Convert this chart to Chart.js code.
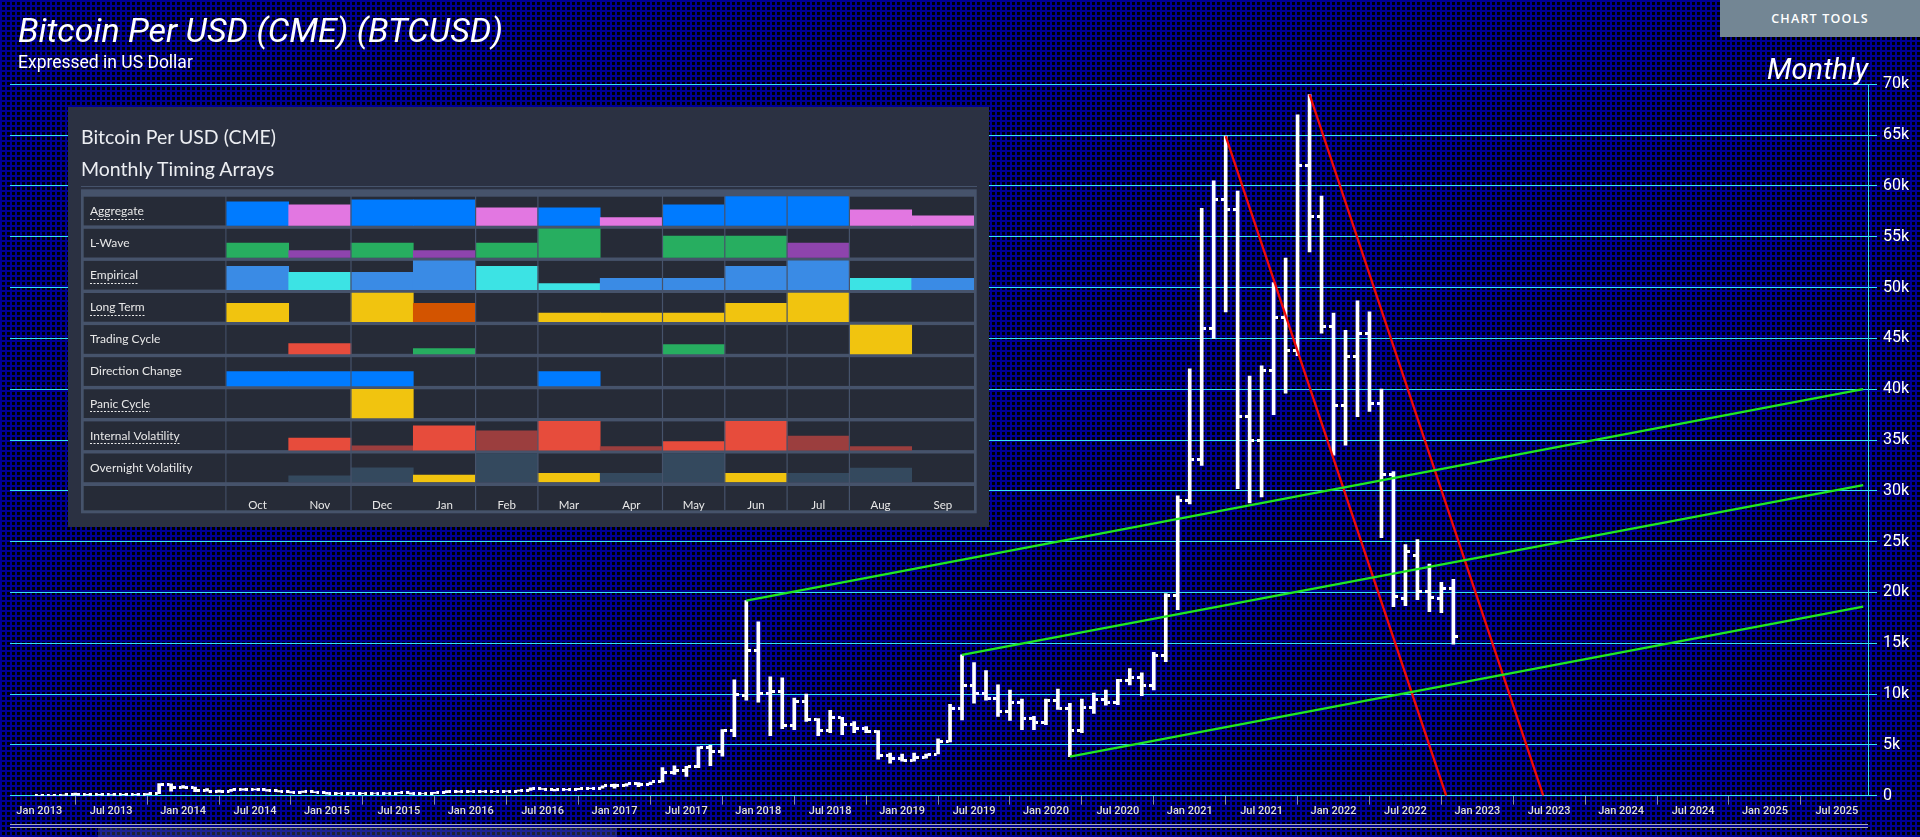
<!DOCTYPE html>
<html>
<head>
<meta charset="utf-8">
<script src="https://cdn.jsdelivr.net/npm/chart.js@4"></script>
<style>
html, body { margin: 0; padding: 0; width: 1920px; height: 837px; overflow: hidden; }
body {
    position: relative;
    background-color: #000;
    background-image: linear-gradient(to right, #000094 2px, transparent 2px),
                      linear-gradient(to bottom, #000094 2px, transparent 2px);
    background-size: 5px 5px;
    font-family: Roboto, sans-serif;
}
canvas { position: absolute; left: 0; top: 0; }
#main { z-index: 1; }
#panel { position: absolute; left: 68px; top: 107px; width: 921px; height: 420px; background: #2b3142; z-index: 2; }
#table { z-index: 3; pointer-events: none; }
.txt { position: absolute; white-space: nowrap; z-index: 4; color: #fff; }
#title { left: 18px; top: 13px; font: italic 34px/34px Roboto; }
#subtitle { left: 18px; top: 54px; font: 17.5px/17.5px Roboto; }
#period { right: 52px; top: 55px; font: italic 29px/29px Roboto; }
#tools { left: 1720px; top: 0; width: 200px; height: 37px; background: #738694; font: 600 12.5px/37px "Open Sans"; letter-spacing: 1.2px; text-align: center; }
.ptitle { left: 81px; font: 19.5px/23.4px Lato; color: #eceef2; }
#sep { position: absolute; left: 81px; top: 186px; width: 896px; height: 1px; background: #46536b; z-index: 4; }
.nav { position: absolute; left: 10px; width: 1858px; height: 1px; background: #a9aab6; z-index: 1; }
#navbox { position: absolute; left: 98px; top: 828px; width: 519px; height: 9px; background: rgba(90, 100, 150, 0.35); z-index: 1; }
</style>
</head>
<body>
<canvas id="main" width="1920" height="837"></canvas>
<div id="panel"></div>
<canvas id="table" width="1920" height="837"></canvas>

<div class="txt" id="title">Bitcoin Per USD (CME) (BTCUSD)</div>
<div class="txt" id="subtitle">Expressed in US Dollar</div>
<div class="txt" id="period">Monthly</div>
<div class="txt" id="tools">CHART TOOLS</div>
<div class="txt ptitle" style="top:124.5px">Bitcoin Per USD (CME)</div>
<div class="txt ptitle" style="top:156.8px">Monthly Timing Arrays</div>
<div id="sep"></div>
<div class="nav" style="top:824px"></div>
<div class="nav" style="top:827px"></div>
<div id="navbox"></div>

<script>
"use strict";

// monthly OHLC, Jan 2013 .. Nov 2022 (USD)
const opens = [
    13.5, 20.4, 33.4, 93, 139, 129, 97, 106, 135, 133, 205, 1130,
    760, 800, 555, 450, 445, 625, 640, 585, 480, 385, 340, 375,
    320, 218, 255, 245, 235, 230, 265, 285, 230, 236, 314, 378,
    430, 368, 437, 416, 448, 530, 670, 625, 575, 610, 700, 745,
    960, 965, 1190, 1080, 1350, 2300, 2480, 2870, 4730, 4340, 6450, 9900,
    14300, 10100, 10300, 6900, 9300, 7500, 6400, 7700, 7000, 6600, 6300, 4000,
    3700, 3450, 3800, 4100, 5300, 8600, 10800, 10100, 9600, 8300, 9150, 7550,
    7200, 9350, 8550, 6400, 8650, 9450, 9150, 11350, 11650, 10800, 13800, 19700,
    29000, 33100, 46000, 58700, 57700, 37300, 35000, 41800, 47100, 43800, 62000, 57000,
    46200, 38400, 43200, 45500, 38600, 31600, 19400, 23600, 20100, 19400, 20400
];
const highs = [
    20.7, 33.4, 95.7, 266, 140, 129, 110, 140, 145, 215, 1200, 1160,
    1000, 850, 710, 550, 630, 680, 650, 600, 495, 415, 460, 390,
    320, 270, 300, 260, 250, 270, 320, 290, 245, 330, 500, 465,
    460, 445, 440, 470, 550, 780, 700, 625, 620, 720, 755, 980,
    1150, 1200, 1290, 1350, 2760, 2950, 2900, 4800, 4950, 6500, 11400, 19200,
    17100, 11700, 11600, 9600, 10000, 7600, 8400, 7700, 7300, 6800, 6400, 4200,
    4100, 4200, 4100, 5600, 9000, 13850, 13100, 12300, 10900, 10400, 9500, 7800,
    9500, 10500, 9100, 9500, 10100, 10400, 11450, 12500, 12100, 14100, 19900, 29500,
    42000, 57800, 60500, 64900, 59500, 41300, 42300, 50500, 52900, 67000, 69000, 59000,
    47500, 45800, 48700, 47600, 40000, 31900, 24700, 25200, 22800, 21000, 21300
];
const lows = [
    12.7, 19.1, 33.3, 50, 79, 88, 65, 100, 110, 90, 200, 450,
    740, 400, 440, 340, 430, 550, 570, 440, 370, 275, 315, 305,
    160, 210, 235, 210, 225, 220, 250, 160, 225, 235, 300, 350,
    360, 365, 400, 410, 440, 520, 610, 480, 570, 600, 690, 740,
    750, 940, 900, 1080, 1350, 2100, 1900, 2750, 2950, 3900, 5800, 9400,
    9200, 5900, 6600, 6500, 7300, 5900, 6200, 6000, 6200, 6200, 3600, 3200,
    3400, 3400, 3700, 4100, 5300, 7460, 9100, 9400, 7800, 7400, 6500, 6500,
    7000, 8500, 3840, 6200, 8100, 8900, 8950, 10900, 9850, 10400, 13200, 18300,
    28700, 32500, 45000, 47600, 30200, 28800, 29400, 37500, 39600, 43300, 53500, 45500,
    33500, 34500, 37300, 37800, 25400, 18600, 18700, 19300, 18100, 18000, 14900
];
const closes = [
    20.4, 33.4, 93, 139, 129, 97, 106, 135, 133, 205, 1130, 760,
    800, 555, 450, 445, 625, 640, 585, 480, 385, 340, 375, 320,
    218, 255, 245, 235, 230, 265, 285, 230, 236, 314, 378, 430,
    368, 437, 416, 448, 530, 670, 625, 575, 610, 700, 745, 960,
    965, 1190, 1080, 1350, 2300, 2480, 2870, 4730, 4340, 6450, 10000, 14300,
    10100, 10300, 6900, 9300, 7500, 6400, 7700, 7000, 6600, 6300, 4000, 3700,
    3450, 3800, 4100, 5300, 8600, 10800, 10100, 9600, 8300, 9150, 7550, 7200,
    9350, 8550, 6400, 8650, 9450, 9150, 11350, 11650, 10800, 13800, 19700, 29000,
    33100, 46000, 58700, 57700, 37300, 35000, 41800, 47100, 43800, 62000, 57000, 46200,
    38400, 43200, 45500, 38600, 31600, 19600, 24000, 20100, 19500, 20400, 15700
];

// x tick labels, one every 6 months from Jan 2013
const xTickLabels = [
    "Jan 2013", "Jul 2013", "Jan 2014", "Jul 2014", "Jan 2015", "Jul 2015",
    "Jan 2016", "Jul 2016", "Jan 2017", "Jul 2017", "Jan 2018", "Jul 2018",
    "Jan 2019", "Jul 2019", "Jan 2020", "Jul 2020", "Jan 2021", "Jul 2021",
    "Jan 2022", "Jul 2022", "Jan 2023", "Jul 2023", "Jan 2024", "Jul 2024",
    "Jan 2025", "Jul 2025"
];

// trend lines: [month1, price1, month2, price2] (month 0 = Jan 2013)
const greenLines = [
    [59, 19200, 152.2, 40000],
    [77, 13850, 152.2, 30550],
    [86, 3840, 152.2, 18600]
];
const redLines = [
    [99, 64900, 117.4, 0],
    [106, 69000, 125.5, 0]
];

// timing arrays panel
const timingMonths = ["Oct", "Nov", "Dec", "Jan", "Feb", "Mar", "Apr", "May", "Jun", "Jul", "Aug", "Sep"];
const timingRows = ["Aggregate", "L-Wave", "Empirical", "Long Term", "Trading Cycle",
    "Direction Change", "Panic Cycle", "Internal Volatility", "Overnight Volatility"];
const underlinedRows = ["Aggregate", "Empirical", "Long Term", "Panic Cycle", "Internal Volatility"];

const B = "#007bff", P = "#e277e1", G = "#27ae60", V = "#8e44ad", EB = "#3a8be5", C = "#3ce3e4",
      Y = "#f1c40f", O = "#d35400", R = "#e74c3c", DR = "#9b3e3e", S = "#34495e", N = null;

const aggregate       = [0.82, 0.72, 0.89, 0.89, 0.61, 0.61, 0.27, 0.72, 1, 1, 0.54, 0.33];
const aggregateColors = [B, P, B, B, P, B, P, B, B, B, P, P];
const lWave           = [0.5, 0.24, 0.5, 0.24, 0.5, 1, 0, 0.75, 0.75, 0.5, 0, 0];
const lWaveColors     = [G, V, G, V, G, G, N, G, G, V, N, N];
const empirical       = [0.81, 0.6, 0.6, 1, 0.81, 0.21, 0.39, 0.39, 0.81, 1, 0.39, 0.39];
const empiricalColors = [EB, C, EB, EB, C, C, EB, EB, EB, EB, C, EB];
const longTerm        = [0.64, 0, 1, 0.64, 0, 0.3, 0.3, 0.3, 0.64, 1, 0, 0];
const longTermColors  = [Y, N, Y, O, N, Y, Y, Y, Y, Y, N, N];
const tradingCycle    = [0, 0.36, 0, 0.18, 0, 0, 0, 0.32, 0, 0, 1, 0];
const tradingColors   = [N, R, N, G, N, N, N, G, N, N, Y, N];
const directionChange = [0.5, 0.5, 0.5, 0, 0, 0.5, 0, 0, 0, 0, 0, 0];
const directionColors = [B, B, B, N, N, B, N, N, N, N, N, N];
const panicCycle      = [0, 0, 1, 0, 0, 0, 0, 0, 0, 0, 0, 0];
const panicColors     = [N, N, Y, N, N, N, N, N, N, N, N, N];
const internalVol     = [0, 0.42, 0.15, 0.85, 0.67, 1, 0.12, 0.3, 1, 0.49, 0.12, 0];
const internalColors  = [N, R, DR, R, DR, R, DR, R, R, DR, DR, N];
const overnightVol    = [0, 0.22, 0.5, 0.25, 1, 0.31, 0.31, 1, 0.31, 0.31, 0.49, 0];
const overnightColors = [N, S, S, Y, S, Y, S, S, Y, S, S, N];

const rowValues = [aggregate, lWave, empirical, longTerm, tradingCycle, directionChange, panicCycle, internalVol, overnightVol];
const rowColors = [aggregateColors, lWaveColors, empiricalColors, longTermColors, tradingColors,
    directionColors, panicColors, internalColors, overnightColors];

const CYAN = "#38e1f0";
const CELL = 0.894;           // cell height as part of one row band
const TABLE_LINE = "#46536b";
const CELL_BG = "#262b37";
const groupBreaks = [1, 3, 4, 6, 7, 8, 9];   // column separators after these months


// little open / close ticks used as point images
function tickImage(side) {
    const c = document.createElement("canvas");
    c.width = 9; c.height = 3;
    const g = c.getContext("2d");
    g.fillStyle = "#fff";
    g.fillRect(side === "left" ? 0 : 6, 0, 3, 3);
    return c;
}

function trendDataset(line, color) {
    return {
        type: "line",
        data: [{x: line[0], y: line[1]}, {x: line[2], y: line[3]}],
        borderColor: color,
        borderWidth: 2.3,
        pointRadius: 0,
        order: 0
    };
}

const months = opens.map((_, i) => i);

new Chart(document.getElementById("main"), {
    type: "bar",
    data: {
        datasets: [
            {
                type: "bar",
                data: months.map(m => ({x: m, y: [lows[m], highs[m]]})),
                backgroundColor: "#fff",
                barThickness: 3,
                order: 3
            },
            {
                type: "scatter",
                data: months.map(m => ({x: m, y: opens[m]})),
                pointStyle: tickImage("left"),
                pointRadius: 3,
                order: 2
            },
            {
                type: "scatter",
                data: months.map(m => ({x: m, y: closes[m]})),
                pointStyle: tickImage("right"),
                pointRadius: 3,
                order: 2
            },
            ...greenLines.map(l => trendDataset(l, "#22e622")),
            ...redLines.map(l => trendDataset(l, "#f00a0a"))
        ]
    },
    options: {
        responsive: false,
        animation: false,
        events: [],
        layout: { padding: { left: 10, top: 84.3, right: 0, bottom: 0 } },
        plugins: { legend: { display: false }, tooltip: { enabled: false } },
        scales: {
            x: {
                type: "linear",
                min: -2.445,
                max: 152.6,
                offset: false,
                afterBuildTicks: scale => { scale.ticks = xTickLabels.map((_, i) => ({value: i * 6})); },
                afterFit: scale => { scale.height = 41.3; },
                grid: { drawOnChartArea: false, color: "#8a8ea5", tickLength: 9 },
                border: { display: false },
                ticks: {
                    autoSkip: false,
                    maxRotation: 0,
                    padding: 0,
                    color: "#dedede",
                    font: { family: "Roboto", size: 11, weight: "500" },
                    callback: (v, i) => xTickLabels[i]
                }
            },
            y: {
                position: "right",
                min: 0,
                max: 70000,
                afterFit: scale => { scale.width = 52; },
                grid: { color: CYAN, lineWidth: 1, tickLength: 9 },
                border: { display: true, color: CYAN },
                ticks: {
                    stepSize: 5000,
                    padding: 6,
                    color: "#fff",
                    font: { family: "Roboto", size: 16 },
                    callback: v => v === 0 ? "0" : (v / 1000) + "k"
                }
            }
        }
    }
});


// backgrounds, separators and underlines for the timing table
const tableDecor = {
    id: "tableDecor",
    beforeDraw(chart) {
        const {ctx, chartArea: a, scales: {y}} = chart;
        ctx.save();
        ctx.fillStyle = TABLE_LINE;
        ctx.fillRect(81, 189.3, 976.7 - 81, 513.3 - 189.3);
        ctx.fillStyle = CELL_BG;
        timingRows.forEach((name, i) => {
            const top = y.getPixelForValue(8 - i + CELL);
            const bottom = y.getPixelForValue(8 - i);
            ctx.fillRect(83.7, top, 225.4 - 83.7, bottom - top);
            ctx.fillRect(a.left, top, a.right - a.left, bottom - top);
        });
        const hTop = a.bottom + 3.8;
        ctx.fillRect(83.7, hTop, 225.4 - 83.7, 24.3);
        ctx.fillRect(a.left, hTop, a.right - a.left, 24.3);
        ctx.restore();
    },
    afterDatasetsDraw(chart) {
        const {ctx, chartArea: a, scales: {x}} = chart;
        ctx.save();
        ctx.strokeStyle = TABLE_LINE;
        ctx.lineWidth = 1.2;
        groupBreaks.forEach(j => {
            const px = (x.getPixelForTick(j) + x.getPixelForTick(j + 1)) / 2;
            ctx.beginPath();
            ctx.moveTo(px, a.top);
            ctx.lineTo(px, a.bottom + 28.1);
            ctx.stroke();
        });
        ctx.restore();
    },
    afterDraw(chart) {
        const {ctx, scales: {y}} = chart;
        ctx.save();
        ctx.font = "12px Lato";
        ctx.strokeStyle = "#e8e8e8";
        ctx.lineWidth = 1;
        ctx.setLineDash([2, 1.5]);
        timingRows.forEach((name, i) => {
            if (!underlinedRows.includes(name)) return;
            const yy = Math.round(y.getPixelForValue(8 - i + CELL / 2) + 7.5) + 0.5;
            ctx.beginPath();
            ctx.moveTo(90, yy);
            ctx.lineTo(90 + ctx.measureText(name).width, yy);
            ctx.stroke();
        });
        ctx.restore();
    }
};

new Chart(document.getElementById("table"), {
    type: "bar",
    data: {
        labels: timingMonths,
        datasets: rowValues.map((vals, i) => ({
            data: vals.map(v => v > 0 ? [8 - i, 8 - i + CELL * v] : null),
            backgroundColor: rowColors[i].map(c => c || "transparent"),
            grouped: false,
            categoryPercentage: 1,
            barPercentage: 1,
            borderWidth: 0
        }))
    },
    options: {
        responsive: false,
        animation: false,
        events: [],
        layout: { padding: { left: 90, top: 193.3, right: 946, bottom: 323.7 } },
        plugins: { legend: { display: false }, tooltip: { enabled: false } },
        scales: {
            x: {
                afterFit: scale => { scale.height = 31.1; },
                grid: { display: false },
                border: { display: false },
                ticks: {
                    padding: 8,
                    color: "#e8e8e8",
                    font: { family: "Lato", size: 11.5 }
                }
            },
            y: {
                position: "left",
                min: 0,
                max: 9,
                afterFit: scale => { scale.width = 136.4; },
                afterBuildTicks: scale => {
                    scale.ticks = timingRows.map((_, i) => ({value: 8 - i + CELL / 2}));
                },
                grid: { display: false },
                border: { display: false },
                ticks: {
                    autoSkip: false,
                    crossAlign: "far",
                    padding: 0,
                    color: "#e8e8e8",
                    font: { family: "Lato", size: 12 },
                    callback: (v, i) => timingRows[i]
                }
            }
        }
    },
    plugins: [tableDecor]
});
</script>
</body>
</html>
